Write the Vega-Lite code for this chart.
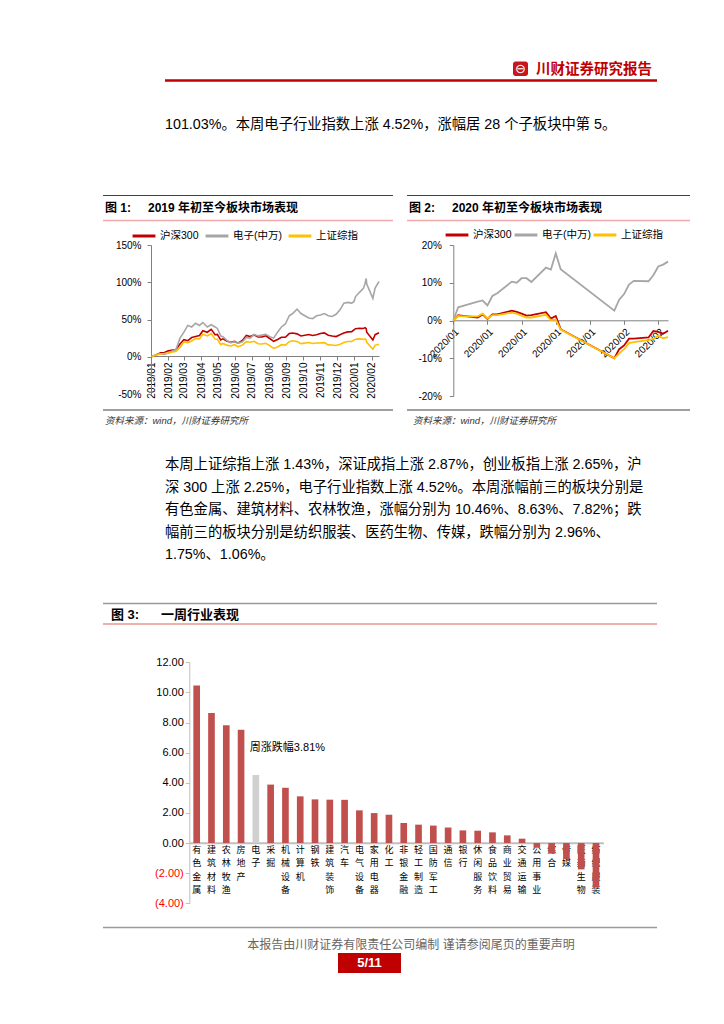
{
"$schema": "https://vega.github.io/schema/vega-lite/v6.json",
"width": 724, "height": 1024, "padding": 0, "autosize": "none", "background": "#ffffff",
"config": {"view": {"stroke": null}, "font": "Liberation Sans, Noto Sans CJK SC", "axis": {"grid": false}},
"resolve": {"scale": {"x": "independent", "y": "independent", "color": "independent"}, "axis": {"x": "independent", "y": "independent"}, "legend": {"color": "independent"}},
"layer": [
{
"data": {"values": [{"page": "5/11"}]},
"layer": [
{"mark": {"type": "rect", "color": "#c8161e", "cornerRadius": 2.5}, "encoding": {"x": {"datum": 513, "type": "quantitative", "scale": {"domain": [0, 724], "range": [0, 724], "nice": false, "zero": false}, "axis": null}, "x2": {"datum": 528}, "y": {"datum": 61.5, "type": "quantitative", "scale": {"domain": [0, 1024], "range": [0, 1024], "nice": false, "zero": false}, "axis": null}, "y2": {"datum": 76}}},
{"mark": {"type": "text", "text": "⊖", "color": "#ffffff", "font": "DejaVu Sans", "fontSize": 13, "align": "center", "baseline": "middle"}, "encoding": {"x": {"datum": 520.5, "type": "quantitative", "scale": {"domain": [0, 724], "range": [0, 724], "nice": false, "zero": false}, "axis": null}, "y": {"datum": 69, "type": "quantitative", "scale": {"domain": [0, 1024], "range": [0, 1024], "nice": false, "zero": false}, "axis": null}}},
{"mark": {"type": "text", "text": "川财证券研究报告", "color": "#c00000", "font": "Noto Sans CJK SC", "fontWeight": "bold", "fontSize": 14.5, "align": "left", "baseline": "middle"}, "encoding": {"x": {"datum": 536, "type": "quantitative", "scale": {"domain": [0, 724], "range": [0, 724], "nice": false, "zero": false}, "axis": null}, "y": {"datum": 69.5, "type": "quantitative", "scale": {"domain": [0, 1024], "range": [0, 1024], "nice": false, "zero": false}, "axis": null}}},
{"mark": {"type": "rule", "color": "#c00000", "strokeWidth": 2.5}, "encoding": {"x": {"datum": 165, "type": "quantitative", "scale": {"domain": [0, 724], "range": [0, 724], "nice": false, "zero": false}, "axis": null}, "x2": {"datum": 657}, "y": {"datum": 80.5, "type": "quantitative", "scale": {"domain": [0, 1024], "range": [0, 1024], "nice": false, "zero": false}, "axis": null}}},
{"mark": {"type": "text", "text": "101.03%。本周电子行业指数上涨 4.52%，涨幅居 28 个子板块中第 5。", "fontSize": 14.3, "align": "left", "baseline": "middle", "color": "#000000"}, "encoding": {"x": {"datum": 165, "type": "quantitative", "scale": {"domain": [0, 724], "range": [0, 724], "nice": false, "zero": false}, "axis": null}, "y": {"datum": 125, "type": "quantitative", "scale": {"domain": [0, 1024], "range": [0, 1024], "nice": false, "zero": false}, "axis": null}}},
{"mark": {"type": "rule", "color": "#404040", "strokeWidth": 1}, "encoding": {"x": {"datum": 103, "type": "quantitative", "scale": {"domain": [0, 724], "range": [0, 724], "nice": false, "zero": false}, "axis": null}, "x2": {"datum": 393}, "y": {"datum": 195.5, "type": "quantitative", "scale": {"domain": [0, 1024], "range": [0, 1024], "nice": false, "zero": false}, "axis": null}}},
{"mark": {"type": "rule", "color": "#404040", "strokeWidth": 1}, "encoding": {"x": {"datum": 407, "type": "quantitative", "scale": {"domain": [0, 724], "range": [0, 724], "nice": false, "zero": false}, "axis": null}, "x2": {"datum": 690}, "y": {"datum": 195.5, "type": "quantitative", "scale": {"domain": [0, 1024], "range": [0, 1024], "nice": false, "zero": false}, "axis": null}}},
{"mark": {"type": "rule", "color": "#f2a9a9", "strokeWidth": 1.5}, "encoding": {"x": {"datum": 103, "type": "quantitative", "scale": {"domain": [0, 724], "range": [0, 724], "nice": false, "zero": false}, "axis": null}, "x2": {"datum": 393}, "y": {"datum": 220.5, "type": "quantitative", "scale": {"domain": [0, 1024], "range": [0, 1024], "nice": false, "zero": false}, "axis": null}}},
{"mark": {"type": "rule", "color": "#f2a9a9", "strokeWidth": 1.5}, "encoding": {"x": {"datum": 407, "type": "quantitative", "scale": {"domain": [0, 724], "range": [0, 724], "nice": false, "zero": false}, "axis": null}, "x2": {"datum": 690}, "y": {"datum": 220.5, "type": "quantitative", "scale": {"domain": [0, 1024], "range": [0, 1024], "nice": false, "zero": false}, "axis": null}}},
{"mark": {"type": "rule", "color": "#404040", "strokeWidth": 1}, "encoding": {"x": {"datum": 103, "type": "quantitative", "scale": {"domain": [0, 724], "range": [0, 724], "nice": false, "zero": false}, "axis": null}, "x2": {"datum": 393}, "y": {"datum": 410, "type": "quantitative", "scale": {"domain": [0, 1024], "range": [0, 1024], "nice": false, "zero": false}, "axis": null}}},
{"mark": {"type": "rule", "color": "#404040", "strokeWidth": 1}, "encoding": {"x": {"datum": 407, "type": "quantitative", "scale": {"domain": [0, 724], "range": [0, 724], "nice": false, "zero": false}, "axis": null}, "x2": {"datum": 690}, "y": {"datum": 410, "type": "quantitative", "scale": {"domain": [0, 1024], "range": [0, 1024], "nice": false, "zero": false}, "axis": null}}},
{"mark": {"type": "text", "text": "图 1:", "fontSize": 12, "fontWeight": "bold", "align": "left", "baseline": "middle"}, "encoding": {"x": {"datum": 105, "type": "quantitative", "scale": {"domain": [0, 724], "range": [0, 724], "nice": false, "zero": false}, "axis": null}, "y": {"datum": 208, "type": "quantitative", "scale": {"domain": [0, 1024], "range": [0, 1024], "nice": false, "zero": false}, "axis": null}}},
{"mark": {"type": "text", "text": "2019 年初至今板块市场表现", "fontSize": 12, "fontWeight": "bold", "align": "left", "baseline": "middle"}, "encoding": {"x": {"datum": 148, "type": "quantitative", "scale": {"domain": [0, 724], "range": [0, 724], "nice": false, "zero": false}, "axis": null}, "y": {"datum": 208, "type": "quantitative", "scale": {"domain": [0, 1024], "range": [0, 1024], "nice": false, "zero": false}, "axis": null}}},
{"mark": {"type": "text", "text": "图 2:", "fontSize": 12, "fontWeight": "bold", "align": "left", "baseline": "middle"}, "encoding": {"x": {"datum": 409, "type": "quantitative", "scale": {"domain": [0, 724], "range": [0, 724], "nice": false, "zero": false}, "axis": null}, "y": {"datum": 208, "type": "quantitative", "scale": {"domain": [0, 1024], "range": [0, 1024], "nice": false, "zero": false}, "axis": null}}},
{"mark": {"type": "text", "text": "2020 年初至今板块市场表现", "fontSize": 12, "fontWeight": "bold", "align": "left", "baseline": "middle"}, "encoding": {"x": {"datum": 452, "type": "quantitative", "scale": {"domain": [0, 724], "range": [0, 724], "nice": false, "zero": false}, "axis": null}, "y": {"datum": 208, "type": "quantitative", "scale": {"domain": [0, 1024], "range": [0, 1024], "nice": false, "zero": false}, "axis": null}}},
{"mark": {"type": "text", "text": "资料来源：wind，川财证券研究所", "fontSize": 9.5, "fontStyle": "italic", "color": "#333333", "align": "left", "baseline": "middle"}, "encoding": {"x": {"datum": 105, "type": "quantitative", "scale": {"domain": [0, 724], "range": [0, 724], "nice": false, "zero": false}, "axis": null}, "y": {"datum": 421, "type": "quantitative", "scale": {"domain": [0, 1024], "range": [0, 1024], "nice": false, "zero": false}, "axis": null}}},
{"mark": {"type": "text", "text": "资料来源：wind，川财证券研究所", "fontSize": 9.5, "fontStyle": "italic", "color": "#333333", "align": "left", "baseline": "middle"}, "encoding": {"x": {"datum": 413, "type": "quantitative", "scale": {"domain": [0, 724], "range": [0, 724], "nice": false, "zero": false}, "axis": null}, "y": {"datum": 421, "type": "quantitative", "scale": {"domain": [0, 1024], "range": [0, 1024], "nice": false, "zero": false}, "axis": null}}},
{"mark": {"type": "text", "text": "本周上证综指上涨 1.43%，深证成指上涨 2.87%，创业板指上涨 2.65%，沪", "fontSize": 14.3, "align": "left", "baseline": "middle"}, "encoding": {"x": {"datum": 165, "type": "quantitative", "scale": {"domain": [0, 724], "range": [0, 724], "nice": false, "zero": false}, "axis": null}, "y": {"datum": 465, "type": "quantitative", "scale": {"domain": [0, 1024], "range": [0, 1024], "nice": false, "zero": false}, "axis": null}}},
{"mark": {"type": "text", "text": "深 300 上涨 2.25%，电子行业指数上涨 4.52%。本周涨幅前三的板块分别是", "fontSize": 14.3, "align": "left", "baseline": "middle"}, "encoding": {"x": {"datum": 165, "type": "quantitative", "scale": {"domain": [0, 724], "range": [0, 724], "nice": false, "zero": false}, "axis": null}, "y": {"datum": 487.5, "type": "quantitative", "scale": {"domain": [0, 1024], "range": [0, 1024], "nice": false, "zero": false}, "axis": null}}},
{"mark": {"type": "text", "text": "有色金属、建筑材料、农林牧渔，涨幅分别为 10.46%、8.63%、7.82%；跌", "fontSize": 14.3, "align": "left", "baseline": "middle"}, "encoding": {"x": {"datum": 165, "type": "quantitative", "scale": {"domain": [0, 724], "range": [0, 724], "nice": false, "zero": false}, "axis": null}, "y": {"datum": 510, "type": "quantitative", "scale": {"domain": [0, 1024], "range": [0, 1024], "nice": false, "zero": false}, "axis": null}}},
{"mark": {"type": "text", "text": "幅前三的板块分别是纺织服装、医药生物、传媒，跌幅分别为 2.96%、", "fontSize": 14.3, "align": "left", "baseline": "middle"}, "encoding": {"x": {"datum": 165, "type": "quantitative", "scale": {"domain": [0, 724], "range": [0, 724], "nice": false, "zero": false}, "axis": null}, "y": {"datum": 532.5, "type": "quantitative", "scale": {"domain": [0, 1024], "range": [0, 1024], "nice": false, "zero": false}, "axis": null}}},
{"mark": {"type": "text", "text": "1.75%、1.06%。", "fontSize": 14.3, "align": "left", "baseline": "middle"}, "encoding": {"x": {"datum": 165, "type": "quantitative", "scale": {"domain": [0, 724], "range": [0, 724], "nice": false, "zero": false}, "axis": null}, "y": {"datum": 555, "type": "quantitative", "scale": {"domain": [0, 1024], "range": [0, 1024], "nice": false, "zero": false}, "axis": null}}},
{"mark": {"type": "rule", "color": "#9a9a9a", "strokeWidth": 1.5}, "encoding": {"x": {"datum": 103, "type": "quantitative", "scale": {"domain": [0, 724], "range": [0, 724], "nice": false, "zero": false}, "axis": null}, "x2": {"datum": 657}, "y": {"datum": 603.5, "type": "quantitative", "scale": {"domain": [0, 1024], "range": [0, 1024], "nice": false, "zero": false}, "axis": null}}},
{"mark": {"type": "rule", "color": "#e06060", "strokeWidth": 1.2}, "encoding": {"x": {"datum": 103, "type": "quantitative", "scale": {"domain": [0, 724], "range": [0, 724], "nice": false, "zero": false}, "axis": null}, "x2": {"datum": 657}, "y": {"datum": 624, "type": "quantitative", "scale": {"domain": [0, 1024], "range": [0, 1024], "nice": false, "zero": false}, "axis": null}}},
{"mark": {"type": "text", "text": "图 3:", "fontSize": 13, "fontWeight": "bold", "align": "left", "baseline": "middle"}, "encoding": {"x": {"datum": 111, "type": "quantitative", "scale": {"domain": [0, 724], "range": [0, 724], "nice": false, "zero": false}, "axis": null}, "y": {"datum": 614.5, "type": "quantitative", "scale": {"domain": [0, 1024], "range": [0, 1024], "nice": false, "zero": false}, "axis": null}}},
{"mark": {"type": "text", "text": "一周行业表现", "fontSize": 13, "fontWeight": "bold", "align": "left", "baseline": "middle"}, "encoding": {"x": {"datum": 161, "type": "quantitative", "scale": {"domain": [0, 724], "range": [0, 724], "nice": false, "zero": false}, "axis": null}, "y": {"datum": 614.5, "type": "quantitative", "scale": {"domain": [0, 1024], "range": [0, 1024], "nice": false, "zero": false}, "axis": null}}},
{"mark": {"type": "rule", "color": "#9a9a9a", "strokeWidth": 1.5}, "encoding": {"x": {"datum": 103, "type": "quantitative", "scale": {"domain": [0, 724], "range": [0, 724], "nice": false, "zero": false}, "axis": null}, "x2": {"datum": 657}, "y": {"datum": 927.5, "type": "quantitative", "scale": {"domain": [0, 1024], "range": [0, 1024], "nice": false, "zero": false}, "axis": null}}},
{"mark": {"type": "text", "text": "本报告由川财证券有限责任公司编制  谨请参阅尾页的重要声明", "fontSize": 12, "color": "#666666", "align": "center", "baseline": "middle"}, "encoding": {"x": {"datum": 411, "type": "quantitative", "scale": {"domain": [0, 724], "range": [0, 724], "nice": false, "zero": false}, "axis": null}, "y": {"datum": 944.5, "type": "quantitative", "scale": {"domain": [0, 1024], "range": [0, 1024], "nice": false, "zero": false}, "axis": null}}},
{"mark": {"type": "rect", "color": "#c00000"}, "encoding": {"x": {"datum": 338, "type": "quantitative", "scale": {"domain": [0, 724], "range": [0, 724], "nice": false, "zero": false}, "axis": null}, "x2": {"datum": 401}, "y": {"datum": 953, "type": "quantitative", "scale": {"domain": [0, 1024], "range": [0, 1024], "nice": false, "zero": false}, "axis": null}, "y2": {"datum": 973}}},
{"mark": {"type": "text", "fontSize": 13, "fontWeight": "bold", "color": "#ffffff", "align": "center", "baseline": "middle"}, "encoding": {"text": {"field": "page"}, "x": {"datum": 369.5, "type": "quantitative", "scale": {"domain": [0, 724], "range": [0, 724], "nice": false, "zero": false}, "axis": null}, "y": {"datum": 963, "type": "quantitative", "scale": {"domain": [0, 1024], "range": [0, 1024], "nice": false, "zero": false}, "axis": null}}}
]
},
{
"data": {"values": [
{"d": "2019-01-02", "hs300": 0, "elec": 0, "sse": 0},
{"d": "2019-01-04", "hs300": 0.8, "elec": 1, "sse": 0.8},
{"d": "2019-01-11", "hs300": 2.8, "elec": 3, "sse": 2.4},
{"d": "2019-01-18", "hs300": 5.2, "elec": 4, "sse": 4.1},
{"d": "2019-01-25", "hs300": 5.8, "elec": 3, "sse": 4.3},
{"d": "2019-02-01", "hs300": 7.9, "elec": 5, "sse": 5.0},
{"d": "2019-02-15", "hs300": 9.8, "elec": 10, "sse": 7.5},
{"d": "2019-02-22", "hs300": 17.0, "elec": 25, "sse": 12.4},
{"d": "2019-03-01", "hs300": 23.0, "elec": 33, "sse": 20.0},
{"d": "2019-03-08", "hs300": 21.5, "elec": 42, "sse": 19.0},
{"d": "2019-03-15", "hs300": 25.8, "elec": 40, "sse": 21.1},
{"d": "2019-03-22", "hs300": 27.3, "elec": 45, "sse": 24.5},
{"d": "2019-03-29", "hs300": 28.6, "elec": 42, "sse": 23.9},
{"d": "2019-04-04", "hs300": 34.9, "elec": 46, "sse": 30.2},
{"d": "2019-04-12", "hs300": 32.9, "elec": 40, "sse": 27.9},
{"d": "2019-04-19", "hs300": 36.8, "elec": 43, "sse": 31.1},
{"d": "2019-04-26", "hs300": 29.6, "elec": 40, "sse": 23.7},
{"d": "2019-04-30", "hs300": 30.0, "elec": 38, "sse": 23.4},
{"d": "2019-05-06", "hs300": 22.6, "elec": 28, "sse": 16.5},
{"d": "2019-05-10", "hs300": 24.0, "elec": 27, "sse": 17.8},
{"d": "2019-05-17", "hs300": 21.2, "elec": 22, "sse": 15.6},
{"d": "2019-05-24", "hs300": 19.3, "elec": 19, "sse": 14.4},
{"d": "2019-05-31", "hs300": 20.6, "elec": 20, "sse": 16.2},
{"d": "2019-06-06", "hs300": 18.3, "elec": 18, "sse": 13.4},
{"d": "2019-06-14", "hs300": 21.9, "elec": 20, "sse": 15.6},
{"d": "2019-06-21", "hs300": 28.5, "elec": 26, "sse": 20.3},
{"d": "2019-06-28", "hs300": 27.1, "elec": 25, "sse": 19.4},
{"d": "2019-07-05", "hs300": 29.3, "elec": 30, "sse": 20.7},
{"d": "2019-07-12", "hs300": 26.5, "elec": 28, "sse": 17.5},
{"d": "2019-07-19", "hs300": 26.5, "elec": 29, "sse": 17.2},
{"d": "2019-07-26", "hs300": 28.2, "elec": 30, "sse": 18.1},
{"d": "2019-08-02", "hs300": 24.5, "elec": 27, "sse": 15.0},
{"d": "2019-08-09", "hs300": 20.7, "elec": 25, "sse": 11.3},
{"d": "2019-08-16", "hs300": 23.1, "elec": 33, "sse": 13.2},
{"d": "2019-08-23", "hs300": 26.1, "elec": 40, "sse": 16.2},
{"d": "2019-08-30", "hs300": 26.2, "elec": 44, "sse": 15.7},
{"d": "2019-09-06", "hs300": 31.1, "elec": 55, "sse": 20.3},
{"d": "2019-09-12", "hs300": 31.9, "elec": 58, "sse": 21.5},
{"d": "2019-09-20", "hs300": 30.7, "elec": 64, "sse": 20.5},
{"d": "2019-09-27", "hs300": 27.9, "elec": 58, "sse": 17.6},
{"d": "2019-10-11", "hs300": 29.9, "elec": 52, "sse": 19.2},
{"d": "2019-10-18", "hs300": 28.5, "elec": 51, "sse": 17.8},
{"d": "2019-10-25", "hs300": 29.4, "elec": 55, "sse": 18.5},
{"d": "2019-11-01", "hs300": 31.3, "elec": 56, "sse": 18.6},
{"d": "2019-11-08", "hs300": 32.0, "elec": 58, "sse": 18.9},
{"d": "2019-11-15", "hs300": 28.8, "elec": 55, "sse": 15.9},
{"d": "2019-11-22", "hs300": 27.8, "elec": 54, "sse": 15.7},
{"d": "2019-11-29", "hs300": 27.1, "elec": 57, "sse": 15.2},
{"d": "2019-12-06", "hs300": 29.6, "elec": 63, "sse": 16.8},
{"d": "2019-12-13", "hs300": 31.8, "elec": 72, "sse": 19.0},
{"d": "2019-12-20", "hs300": 33.4, "elec": 73, "sse": 20.5},
{"d": "2019-12-27", "hs300": 33.6, "elec": 72, "sse": 20.5},
{"d": "2019-12-31", "hs300": 36.1, "elec": 74, "sse": 22.3},
{"d": "2020-01-03", "hs300": 37.7, "elec": 80.8, "sse": 23.6},
{"d": "2020-01-10", "hs300": 38.3, "elec": 86.5, "sse": 24.0},
{"d": "2020-01-17", "hs300": 38.0, "elec": 91.7, "sse": 23.3},
{"d": "2020-01-20", "hs300": 39.1, "elec": 98.4, "sse": 24.1},
{"d": "2020-01-22", "hs300": 37.7, "elec": 105, "sse": 22.7},
{"d": "2020-01-23", "hs300": 33.0, "elec": 97.7, "sse": 19.4},
{"d": "2020-02-03", "hs300": 22.5, "elec": 78.5, "sse": 10.1},
{"d": "2020-02-07", "hs300": 29.6, "elec": 92.3, "sse": 15.3},
{"d": "2020-02-14", "hs300": 32.3, "elec": 101, "sse": 16.9}
]},
"transform": [{"fold": ["hs300", "elec", "sse"], "as": ["key", "value"]}],
"mark": {"type": "line", "strokeWidth": 1.6},
"encoding": {
"x": {"field": "d", "type": "temporal", "scale": {"type": "utc", "domain": [{"year": 2019, "month": 1, "date": 1, "utc": true}, {"year": 2020, "month": 2, "date": 14, "utc": true}], "range": [151, 379]},
 "axis": {"orient": "bottom", "offset": -668, "title": null, "values": [{"year": 2019, "month": 1, "date": 1, "utc": true}, {"year": 2019, "month": 2, "date": 1, "utc": true}, {"year": 2019, "month": 3, "date": 1, "utc": true}, {"year": 2019, "month": 4, "date": 1, "utc": true}, {"year": 2019, "month": 5, "date": 1, "utc": true}, {"year": 2019, "month": 6, "date": 1, "utc": true}, {"year": 2019, "month": 7, "date": 1, "utc": true}, {"year": 2019, "month": 8, "date": 1, "utc": true}, {"year": 2019, "month": 9, "date": 1, "utc": true}, {"year": 2019, "month": 10, "date": 1, "utc": true}, {"year": 2019, "month": 11, "date": 1, "utc": true}, {"year": 2019, "month": 12, "date": 1, "utc": true}, {"year": 2020, "month": 1, "date": 1, "utc": true}, {"year": 2020, "month": 2, "date": 1, "utc": true}],
 "labelExpr": "utcFormat(datum.value, '%Y/%m')", "labelAngle": -90, "labelFontSize": 10, "labelPadding": 2, "tickSize": 4, "domainColor": "#808080", "tickColor": "#808080", "labelColor": "#000000", "labelOverlap": false, "labelFlush": false, "labelBound": false, "grid": false}},
"y": {"field": "value", "type": "quantitative", "scale": {"domain": [-50, 150], "range": [394, 245], "nice": false, "zero": false},
 "axis": {"orient": "left", "offset": -151, "title": null, "values": [-50, 0, 50, 100, 150], "labelExpr": "datum.value + '%'", "labelFontSize": 10, "labelPadding": 6, "tickSize": 4, "domainColor": "#808080", "tickColor": "#808080", "labelColor": "#000000", "grid": false}},
"color": {"field": "key", "type": "nominal", "scale": {"domain": ["hs300", "elec", "sse"], "range": ["#c00000", "#a6a6a6", "#ffc000"]},
 "legend": {"orient": "none", "legendX": 131, "legendY": 223, "direction": "horizontal", "title": null, "symbolType": "stroke", "symbolSize": 520, "symbolStrokeWidth": 3, "labelFontSize": 10.5, "columnPadding": 0, "labelOffset": 3, "padding": 0, "labelExpr": "datum.label == 'hs300' ? '沪深300' : datum.label == 'elec' ? '电子(中万)' : '上证综指'"}}
}
},
{
"data": {"values": [
{"d": "2020-01-01", "hs300": 0, "elec": 0, "sse": 0},
{"d": "2020-01-02", "hs300": 1.4, "elec": 3.5, "sse": 1.2},
{"d": "2020-01-03", "hs300": 1.2, "elec": 3.9, "sse": 1.1},
{"d": "2020-01-06", "hs300": 0.8, "elec": 5.0, "sse": 1.1},
{"d": "2020-01-07", "hs300": 1.6, "elec": 5.3, "sse": 1.8},
{"d": "2020-01-08", "hs300": 0.4, "elec": 4.0, "sse": 0.5},
{"d": "2020-01-09", "hs300": 1.6, "elec": 6.5, "sse": 1.4},
{"d": "2020-01-10", "hs300": 1.6, "elec": 7.2, "sse": 1.4},
{"d": "2020-01-13", "hs300": 2.6, "elec": 10.3, "sse": 2.1},
{"d": "2020-01-14", "hs300": 2.3, "elec": 10.0, "sse": 1.8},
{"d": "2020-01-15", "hs300": 1.8, "elec": 11.2, "sse": 1.3},
{"d": "2020-01-16", "hs300": 1.3, "elec": 11.2, "sse": 0.8},
{"d": "2020-01-17", "hs300": 1.4, "elec": 10.2, "sse": 0.8},
{"d": "2020-01-20", "hs300": 2.2, "elec": 14.0, "sse": 1.5},
{"d": "2020-01-21", "hs300": 0.5, "elec": 13.5, "sse": 0.1},
{"d": "2020-01-22", "hs300": 1.2, "elec": 17.8, "sse": 0.3},
{"d": "2020-01-23", "hs300": -2.3, "elec": 13.6, "sse": -2.4},
{"d": "2020-02-03", "hs300": -10.0, "elec": 2.6, "sse": -10.0},
{"d": "2020-02-04", "hs300": -7.6, "elec": 5.5, "sse": -8.7},
{"d": "2020-02-05", "hs300": -6.6, "elec": 7.0, "sse": -7.6},
{"d": "2020-02-06", "hs300": -4.8, "elec": 9.5, "sse": -6.0},
{"d": "2020-02-07", "hs300": -4.8, "elec": 10.5, "sse": -5.7},
{"d": "2020-02-10", "hs300": -4.5, "elec": 10.4, "sse": -5.2},
{"d": "2020-02-11", "hs300": -2.8, "elec": 12.0, "sse": -4.9},
{"d": "2020-02-12", "hs300": -3.0, "elec": 14.3, "sse": -4.0},
{"d": "2020-02-13", "hs300": -3.5, "elec": 14.8, "sse": -4.7},
{"d": "2020-02-14", "hs300": -2.7, "elec": 15.6, "sse": -4.4}
]},
"transform": [{"fold": ["hs300", "elec", "sse"], "as": ["key", "value"]}],
"mark": {"type": "line", "strokeWidth": 1.8},
"encoding": {
"x": {"field": "d", "type": "temporal", "scale": {"type": "utc", "domain": [{"year": 2020, "month": 1, "date": 1, "utc": true}, {"year": 2020, "month": 2, "date": 14, "utc": true}], "range": [453.3, 668]},
 "axis": {"orient": "bottom", "offset": -703.7, "title": null, "values": [{"year": 2020, "month": 1, "date": 1, "utc": true}, {"year": 2020, "month": 1, "date": 8, "utc": true}, {"year": 2020, "month": 1, "date": 15, "utc": true}, {"year": 2020, "month": 1, "date": 22, "utc": true}, {"year": 2020, "month": 1, "date": 29, "utc": true}, {"year": 2020, "month": 2, "date": 5, "utc": true}, {"year": 2020, "month": 2, "date": 12, "utc": true}],
 "labelExpr": "utcFormat(datum.value, '%Y/%m')", "labelAngle": -45, "labelAlign": "right", "labelBaseline": "top", "labelFontSize": 10, "labelPadding": 2, "tickSize": 4, "domainColor": "#808080", "tickColor": "#808080", "labelColor": "#000000", "labelOverlap": false, "labelFlush": false, "labelBound": false, "grid": false}},
"y": {"field": "value", "type": "quantitative", "scale": {"domain": [-20, 20], "range": [396, 245], "nice": false, "zero": false},
 "axis": {"orient": "left", "offset": -453.3, "title": null, "values": [-20, -10, 0, 10, 20], "labelExpr": "datum.value + '%'", "labelFontSize": 10, "labelPadding": 8, "tickSize": 4, "domainColor": "#808080", "tickColor": "#808080", "labelColor": "#000000", "grid": false}},
"color": {"field": "key", "type": "nominal", "scale": {"domain": ["hs300", "elec", "sse"], "range": ["#c00000", "#a6a6a6", "#ffc000"]},
 "legend": {"orient": "none", "legendX": 444, "legendY": 222, "direction": "horizontal", "title": null, "symbolType": "stroke", "symbolSize": 520, "symbolStrokeWidth": 3, "labelFontSize": 10.5, "columnPadding": -4, "labelOffset": 3, "padding": 0, "labelExpr": "datum.label == 'hs300' ? '沪深300' : datum.label == 'elec' ? '电子(中万)' : '上证综指'"}}
}
},
{
"layer": [
{
"data": {"values": [
{"industry": "有色金属", "pct": 10.46},
{"industry": "建筑材料", "pct": 8.63},
{"industry": "农林牧渔", "pct": 7.82},
{"industry": "房地产", "pct": 7.52},
{"industry": "电子", "pct": 4.52},
{"industry": "采掘", "pct": 3.88},
{"industry": "机械设备", "pct": 3.67},
{"industry": "计算机", "pct": 3.10},
{"industry": "钢铁", "pct": 2.90},
{"industry": "建筑装饰", "pct": 2.88},
{"industry": "汽车", "pct": 2.87},
{"industry": "电气设备", "pct": 2.17},
{"industry": "家用电器", "pct": 1.99},
{"industry": "化工", "pct": 1.88},
{"industry": "非银金融", "pct": 1.33},
{"industry": "轻工制造", "pct": 1.22},
{"industry": "国防军工", "pct": 1.16},
{"industry": "通信", "pct": 1.03},
{"industry": "银行", "pct": 0.84},
{"industry": "休闲服务", "pct": 0.82},
{"industry": "食品饮料", "pct": 0.71},
{"industry": "商业贸易", "pct": 0.51},
{"industry": "交通运输", "pct": 0.29},
{"industry": "公用事业", "pct": -0.31},
{"industry": "综合", "pct": -0.70},
{"industry": "传媒", "pct": -1.06},
{"industry": "医药生物", "pct": -1.75},
{"industry": "纺织服装", "pct": -2.96}
]},
"mark": {"type": "bar"},
"encoding": {
"x": {"field": "industry", "type": "nominal", "sort": null,
 "scale": {"domain": ["有色金属", "建筑材料", "农林牧渔", "房地产", "电子", "采掘", "机械设备", "计算机", "钢铁", "建筑装饰", "汽车", "电气设备", "家用电器", "化工", "非银金融", "轻工制造", "国防军工", "通信", "银行", "休闲服务", "食品饮料", "商业贸易", "交通运输", "公用事业", "综合", "传媒", "医药生物", "纺织服装"], "range": [189.3, 603.4], "paddingInner": 0.55, "paddingOuter": 0.275},
 "axis": {"orient": "bottom", "offset": -181.3, "title": null, "labelExpr": "split(datum.label, '')", "labelAngle": 0, "labelAlign": "center", "labelBaseline": "top", "labelFont": "Noto Sans CJK SC", "labelFontSize": 9, "labelLineHeight": 13.2, "labelPadding": 3, "ticks": false, "domainColor": "#bfbfbf", "domainWidth": 2, "labelColor": "#000000", "labelOverlap": false, "labelBound": false, "labelFlush": false, "grid": false}},
"y": {"field": "pct", "type": "quantitative", "scale": {"domain": [-4, 12], "range": [903.3, 662.3], "nice": false},
 "axis": {"orient": "left", "offset": -189.3, "title": null, "values": [-4, -2, 0, 2, 4, 6, 8, 10, 12], "labelExpr": "datum.value < 0 ? '(' + format(-datum.value, '.2f') + ')' : format(datum.value, '.2f')", "labelColor": {"condition": {"test": "datum.value < 0", "value": "#ff0000"}, "value": "#000000"}, "labelFontSize": 11, "labelPadding": 2, "tickSize": 4, "domainColor": "#bfbfbf", "tickColor": "#bfbfbf", "grid": false}},
"color": {"condition": {"test": "datum.industry === '电子'", "value": "#d0d0d0"}, "value": "#c0504d"}
}
},
{
"data": {"values": [{"note": "周涨跌幅3.81%"}]},
"mark": {"type": "text", "align": "left", "baseline": "middle", "dx": -6, "fontSize": 11, "color": "#000000"},
"encoding": {
"x": {"datum": "电子", "type": "nominal"},
"y": {"datum": 6.3, "type": "quantitative"},
"text": {"field": "note"}
}
}
]
}
]
}
